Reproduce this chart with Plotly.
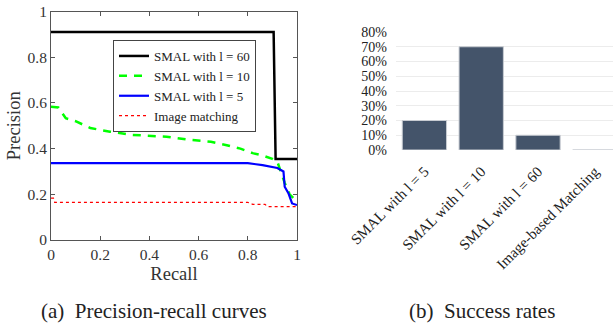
import plotly.graph_objects as go

# ---- data: precision-recall curves ----
recall_l60 = [0.0, 0.905, 0.913, 1.0]
prec_l60 = [0.91, 0.91, 0.355, 0.355]

recall_l10 = [0.0, 0.03, 0.06, 0.10, 0.16, 0.24, 0.33, 0.47, 0.55, 0.65, 0.71, 0.77,
              0.82, 0.86, 0.90, 0.92, 0.95, 0.97, 1.0]
prec_l10 = [0.583, 0.58, 0.533, 0.52, 0.49, 0.474, 0.46, 0.452, 0.44, 0.43, 0.416, 0.40,
            0.38, 0.37, 0.355, 0.343, 0.25, 0.20, 0.168]

recall_l5 = [0.0, 0.80, 0.86, 0.92, 0.945, 0.95, 0.965, 0.98, 1.0]
prec_l5 = [0.336, 0.336, 0.328, 0.315, 0.30, 0.233, 0.205, 0.16, 0.153]

recall_img = [0.0, 0.01, 0.015, 0.80, 0.82, 0.87, 0.88, 1.0]
prec_img = [0.183, 0.183, 0.165, 0.165, 0.156, 0.156, 0.146, 0.146]

# ---- data: success rates ----
methods = ["SMAL with l = 5", "SMAL with l = 10", "SMAL with l = 60", "Image-based Matching"]
success = [0.20, 0.70, 0.10, 0.0]

FONT = "Liberation Serif"
W, H = 613, 323

def px(x):
    return x / W

def py(y):
    return (H - y) / H

fig = go.Figure()

fig.add_trace(go.Scatter(x=recall_l60, y=prec_l60, mode="lines", name="SMAL with l = 60",
                         line=dict(color="black", width=2.5), xaxis="x", yaxis="y"))
fig.add_trace(go.Scatter(x=recall_l10, y=prec_l10, mode="lines", name="SMAL with l = 10",
                         line=dict(color="#00ff00", width=2.5, dash="8px,7px"), xaxis="x", yaxis="y"))
fig.add_trace(go.Scatter(x=recall_l5, y=prec_l5, mode="lines", name="SMAL with l = 5",
                         line=dict(color="#0000ff", width=2.2), xaxis="x", yaxis="y"))
fig.add_trace(go.Scatter(x=recall_img, y=prec_img, mode="lines", name="Image matching",
                         line=dict(color="#ff0000", width=1.3, dash="dot"), xaxis="x", yaxis="y"))

fig.add_trace(go.Bar(x=methods, y=success, marker=dict(color="#44546a", line=dict(color="#c8ccd2", width=1)),
                     width=0.78, showlegend=False, xaxis="x2", yaxis="y2"))

axis_common = dict(showgrid=False, zeroline=False, showline=True, linecolor="#555555", linewidth=1,
                   mirror="ticks", ticks="inside", ticklen=4, tickcolor="#555555", automargin=False,
                   tickfont=dict(family=FONT, size=15.5, color="#333333"))

fig.update_layout(
    width=W, height=H,
    margin=dict(l=0, r=0, t=0, b=0, autoexpand=False),
    paper_bgcolor="white", plot_bgcolor="white",
    font=dict(family=FONT, color="#222222"),
    xaxis=dict(domain=[px(51), px(297)], range=[0, 1], tickvals=[0, 0.2, 0.4, 0.6, 0.8, 1],
               ticktext=["0", "0.2", "0.4", "0.6", "0.8", "1"], anchor="y",
               title=dict(text="Recall", font=dict(family=FONT, size=18.5, color="#333333"), standoff=5),
               **axis_common),
    yaxis=dict(domain=[py(240), py(11.5)], range=[0, 1], tickvals=[0, 0.2, 0.4, 0.6, 0.8, 1],
               ticktext=["0", "0.2", "0.4", "0.6", "0.8", "1"], anchor="x",
               title=dict(text="Precision", font=dict(family=FONT, size=18.5, color="#333333"), standoff=2),
               **axis_common),
    xaxis2=dict(domain=[px(396), 1.0], range=[-0.5, 3.32], anchor="y2", showgrid=False,
                showline=False, zeroline=False, tickangle=-45, ticks="", automargin=False,
                ticklabelstandoff=9,
                tickfont=dict(family=FONT, size=15, color="#222222")),
    yaxis2=dict(domain=[py(150), py(32)], range=[0, 0.8], anchor="x2", showgrid=True,
                gridcolor="#ececec", gridwidth=1, zeroline=False, showline=False, automargin=False,
                tickvals=[0, 0.1, 0.2, 0.3, 0.4, 0.5, 0.6, 0.7, 0.8], tickformat=".0%",
                ticklabelstandoff=8,
                tickfont=dict(family=FONT, size=14, color="#222222")),
    legend=dict(x=px(113), y=py(40), xanchor="left", yanchor="top",
                bgcolor="white", bordercolor="#444444", borderwidth=1,
                font=dict(family=FONT, size=13, color="#222222"),
                itemwidth=30, tracegroupgap=0),
    showlegend=True,
)

fig.add_annotation(text="(a)  Precision-recall curves", x=px(154), y=py(311), xref="paper", yref="paper",
                   xanchor="center", yanchor="middle",
                   showarrow=False, font=dict(family=FONT, size=21, color="#222222"))
fig.add_annotation(text="(b)  Success rates", x=px(481.5), y=py(311), xref="paper", yref="paper",
                   xanchor="center", yanchor="middle",
                   showarrow=False, font=dict(family=FONT, size=21, color="#222222"))

fig.write_html("out.html", config={"displayModeBar": False},
               post_script="document.body.style.margin='0';document.body.style.overflow='hidden';")
